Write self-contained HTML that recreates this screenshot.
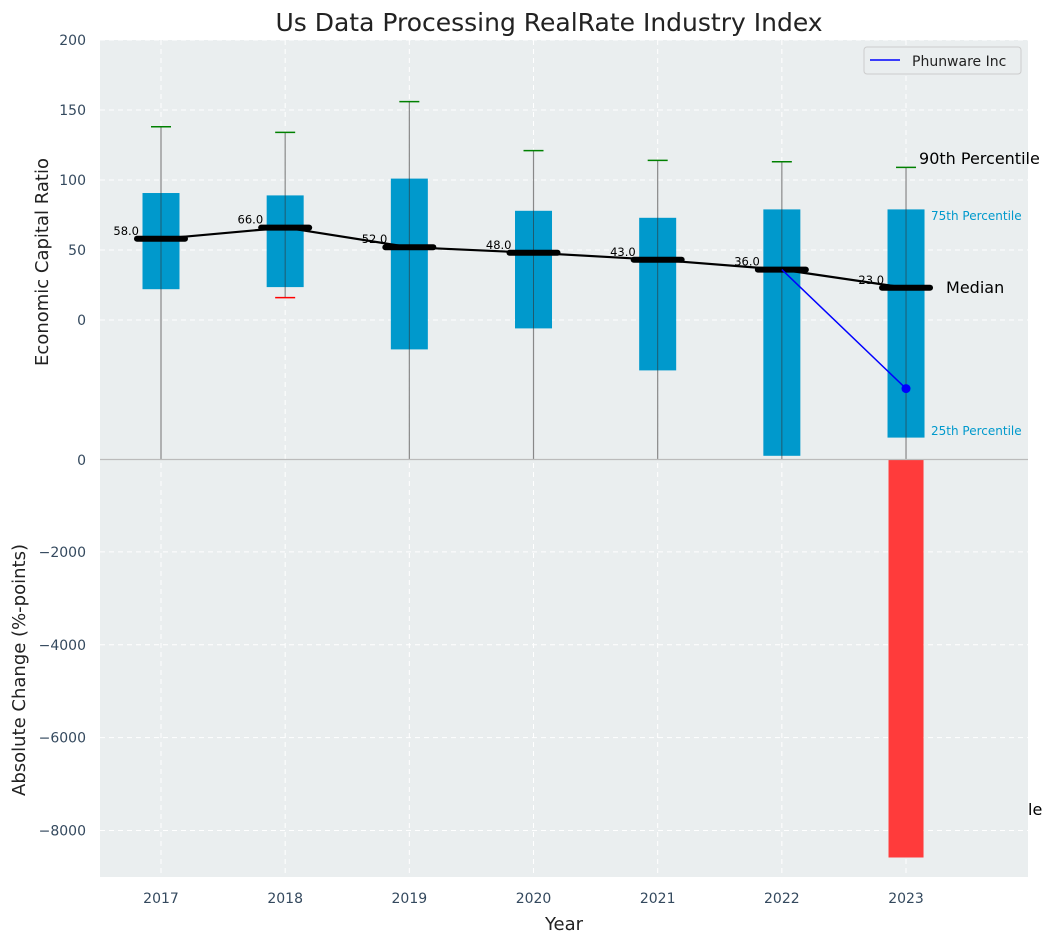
<!DOCTYPE html>
<html><head><meta charset="utf-8"><style>
body{margin:0;background:#fff;width:1054px;height:942px;overflow:hidden;font-family:"Liberation Sans","DejaVu Sans",sans-serif}
svg text{font-family:"DejaVu Sans","Liberation Sans",sans-serif}
</style></head><body>
<svg id="chart" width="1054" height="942" xmlns="http://www.w3.org/2000/svg"></svg>
<script>
const years=[2017,2018,2019,2020,2021,2022,2023];
const q75=[90.7,89,101,78,73,79,79];
const q25=[22,23.5,-21,-6,-36,-97,-84];
const p90=[138,134,156,121,114,113,109];
const p10=[-150,16,-150,-150,-150,-150,-150];
const medians=[58,66,52,48,43,36,23];
const companyYears=[2022,2023];
const companyVals=[36,-49];
const changeYears=[2023];
const changeVals=[-8580];
const topTicks=[0,50,100,150,200];
const botTicks=[-2000,-4000,-6000,-8000];

const svg=document.getElementById('chart');
const NS='http://www.w3.org/2000/svg';
function el(t,a,txt){const e=document.createElementNS(NS,t);for(const k in a)e.setAttribute(k,a[k]);if(txt!==undefined)e.textContent=txt;svg.appendChild(e);return e;}
const X0=100,X1=1028;
const x=v=>161+(v-2017)*124.17;
const yT=v=>320-v*1.4;
const yB=v=>459-v*(418/9000);
const TOP0=40,TOP1=459,BOT1=877;

let e;
e=el('rect',{x:X0,y:TOP0,width:X1-X0,height:BOT1-TOP0,fill:'#eaeeef'});

years.forEach(yr=>{e=el('line',{x1:x(yr),x2:x(yr),y1:TOP0,y2:BOT1,stroke:'#fff','stroke-dasharray':'5,4','stroke-width':1});});
topTicks.forEach(t=>{e=el('line',{x1:X0,x2:X1,y1:yT(t),y2:yT(t),stroke:'#fff','stroke-dasharray':'5,4'});
e=el('text',{x:86,y:yT(t)+5,'text-anchor':'end','font-size':14,fill:'#34495e'},t);});
botTicks.forEach(t=>{e=el('line',{x1:X0,x2:X1,y1:yB(t),y2:yB(t),stroke:'#fff','stroke-dasharray':'5,4'});
e=el('text',{x:86,y:yB(t)+5,'text-anchor':'end','font-size':14,fill:'#34495e'},String(t).replace('-','\u2212'));});
const clampT=v=>Math.max(TOP0,Math.min(TOP1,yT(v)));
years.forEach((yr,i)=>{
 const cx=x(yr);
 e=el('line',{x1:cx,x2:cx,y1:clampT(p90[i]),y2:clampT(p10[i]),stroke:'#888','stroke-width':1.2});
 e=el('rect',{x:cx-18.5,y:yT(q75[i]),width:37,height:yT(q25[i])-yT(q75[i]),fill:'#0099cc'});
 e=el('line',{x1:cx,x2:cx,y1:yT(q75[i]),y2:yT(q25[i]),stroke:'#333','stroke-width':1,opacity:0.6});
 e=el('line',{x1:cx-10,x2:cx+10,y1:yT(p90[i]),y2:yT(p90[i]),stroke:'green','stroke-width':1.5});
 if(yT(p10[i])<TOP1){e=el('line',{x1:cx-10,x2:cx+10,y1:yT(p10[i]),y2:yT(p10[i]),stroke:'red','stroke-width':1.5});}
});
e=el('polyline',{points:years.map((yr,i)=>x(yr)+','+yT(medians[i])).join(' '),fill:'none',stroke:'#000','stroke-width':2.2});
years.forEach((yr,i)=>{const cx=x(yr);
 e=el('line',{x1:cx-24,x2:cx+24,y1:yT(medians[i]),y2:yT(medians[i]),stroke:'#000','stroke-width':6,'stroke-linecap':'round'});
 e=el('text',{x:cx-22,y:yT(medians[i])-4,'text-anchor':'end','font-size':11.5,fill:'#000'},medians[i].toFixed(1));
});
e=el('polyline',{points:companyYears.map((yr,i)=>x(yr)+','+yT(companyVals[i])).join(' '),fill:'none',stroke:'blue','stroke-width':1.5});
e=el('circle',{cx:x(companyYears[1]),cy:yT(companyVals[1]),r:4.5,fill:'blue'});
changeYears.forEach((yr,i)=>{e=el('rect',{x:x(yr)-17.5,y:yB(0),width:35,height:yB(changeVals[i])-yB(0),fill:'#ff3b3b'});});
e=el('line',{x1:X0,x2:X1,y1:459.5,y2:459.5,stroke:'#bbb','stroke-width':1.2});
e=el('text',{x:86,y:465,'text-anchor':'end','font-size':14,fill:'#34495e'},'0');
const c23=x(2023);
e=el('text',{x:c23+13,y:164,'font-size':16,fill:'#000'},'90th Percentile');
e=el('text',{x:c23+25,y:220,'font-size':12,fill:'#0099cc'},'75th Percentile');
e=el('text',{x:c23+25,y:435,'font-size':12,fill:'#0099cc'},'25th Percentile');
e=el('text',{x:c23+40,y:293,'font-size':16,fill:'#000'},'Median');
e=el('text',{x:1028,y:815,'font-size':16,fill:'#000'},'le');
years.forEach(yr=>{e=el('text',{x:x(yr),y:903,'text-anchor':'middle','font-size':14,fill:'#34495e'},yr);});
e=el('text',{x:549,y:31,'text-anchor':'middle','font-size':25,fill:'#222'},'Us Data Processing RealRate Industry Index');
e=el('text',{x:564,y:930,'text-anchor':'middle','font-size':18,fill:'#222'},'Year');
e=el('text',{x:48,y:262,'text-anchor':'middle','font-size':18,fill:'#222',transform:'rotate(-90 48 262)'},'Economic Capital Ratio');
e=el('text',{x:25,y:670,'text-anchor':'middle','font-size':18,fill:'#222',transform:'rotate(-90 25 670)'},'Absolute Change (%-points)');
e=el('rect',{x:864,y:47,width:157,height:27,rx:3,fill:'#eaeeef',stroke:'#ccc'});
e=el('line',{x1:870,x2:900,y1:60,y2:60,stroke:'blue','stroke-width':1.5});
e=el('text',{x:912,y:66,'font-size':14,fill:'#222'},'Phunware Inc');
</script>
</body></html>
